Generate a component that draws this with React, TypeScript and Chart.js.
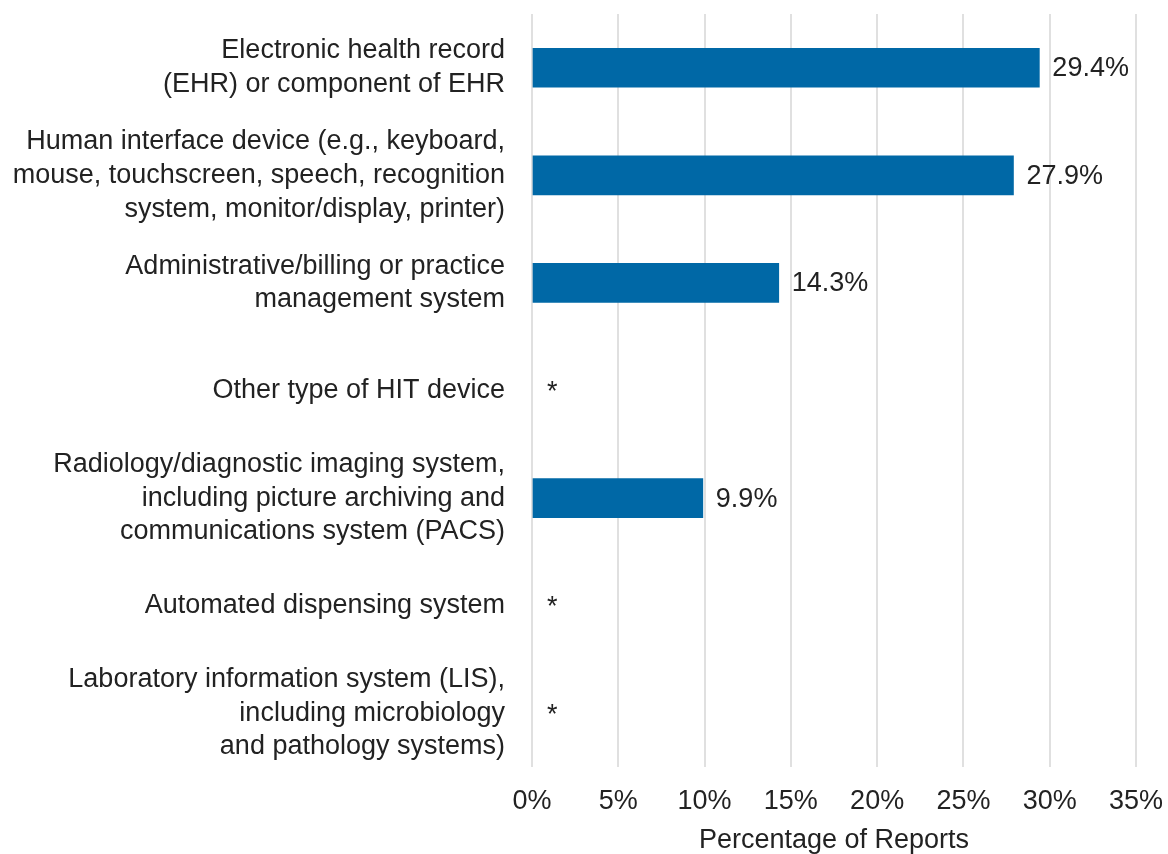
import React, { useEffect, useRef } from "react";
import { Chart, registerables } from "chart.js";

Chart.register(...registerables);

const categories: string[][] = [
  ["Electronic health record", "(EHR) or component of EHR"],
  ["Human interface device (e.g., keyboard,", "mouse, touchscreen, speech, recognition", "system, monitor/display, printer)"],
  ["Administrative/billing or practice", "management system"],
  ["Other type of HIT device"],
  ["Radiology/diagnostic imaging system,", "including picture archiving and", "communications system (PACS)"],
  ["Automated dispensing system"],
  ["Laboratory information system (LIS),", "including microbiology", "and pathology systems)"],
];

// null = suppressed value, shown as "*"
const percentages: (number | null)[] = [29.4, 27.9, 14.3, null, 9.9, null, null];

const xTickValues: number[] = [0, 5, 10, 15, 20, 25, 30, 35];
const xAxisTitle = "Percentage of Reports";
const suppressedMark = "*";

const FONT = "'Liberation Sans', Arial, Helvetica, sans-serif";
const TEXT = "#222222";

const valueLabels = {
  id: "valueLabels",
  afterDatasetsDraw(chart: any) {
    const { ctx } = chart;
    const meta = chart.getDatasetMeta(0);
    const xScale = chart.scales.x;
    ctx.save();
    ctx.font = `27px ${FONT}`;
    ctx.fillStyle = TEXT;
    ctx.textAlign = "left";
    ctx.textBaseline = "middle";
    percentages.forEach((v, i) => {
      const el = meta.data[i];
      const y = el.y;
      if (v === null) {
        ctx.fillText(suppressedMark, xScale.getPixelForValue(0) + 15, y + 2);
      } else {
        ctx.fillText(`${v.toFixed(1)}%`, el.x + 13, y + 1);
      }
    });
    ctx.restore();
  },
};

export default function App() {
  const ref = useRef<HTMLCanvasElement | null>(null);

  useEffect(() => {
    document.body.style.margin = "0";
    const canvas = ref.current;
    if (!canvas) return;
    const chart = new Chart(canvas, {
      type: "bar",
      data: {
        labels: categories as any,
        datasets: [
          {
            data: percentages as any,
            backgroundColor: "#0068A6",
            borderWidth: 0,
            barThickness: 39,
          },
        ],
      },
      options: {
        indexAxis: "y",
        responsive: false,
        animation: false,
        devicePixelRatio: 1,
        layout: { padding: { top: 14, right: 32, bottom: 0, left: 0 } },
        plugins: {
          legend: { display: false },
          tooltip: { enabled: false },
        },
        scales: {
          x: {
            type: "linear",
            min: 0,
            max: 35,
            afterBuildTicks: (scale: any) => {
              scale.ticks = xTickValues.map((v) => ({ value: v }));
            },
            afterFit: (scale: any) => {
              scale.height = 87;
              scale.paddingLeft = 0;
              scale.paddingRight = 0;
            },
            grid: { color: "#e0e0e0", lineWidth: 2, drawTicks: false },
            border: { display: false },
            ticks: {
              padding: 18,
              color: TEXT,
              font: { family: FONT, size: 27 },
              callback: (v: any) => `${v}%`,
            },
            title: {
              display: true,
              text: xAxisTitle,
              color: TEXT,
              font: { family: FONT, size: 27, lineHeight: 1.0 },
              padding: { top: 0, bottom: 0 },
            },
          },
          y: {
            afterFit: (scale: any) => {
              scale.width = 532;
              scale.paddingTop = 0;
              scale.paddingBottom = 0;
            },
            grid: { display: false, drawTicks: false },
            border: { display: false },
            ticks: {
              autoSkip: false,
              padding: 27,
              color: TEXT,
              font: { family: FONT, size: 27, lineHeight: 1.25 },
            },
          },
        },
      },
      plugins: [valueLabels],
    });
    return () => chart.destroy();
  }, []);

  return (
    <div style={{ width: 1168, height: 854, background: "#fff" }}>
      <canvas ref={ref} width={1168} height={854} />
    </div>
  );
}
